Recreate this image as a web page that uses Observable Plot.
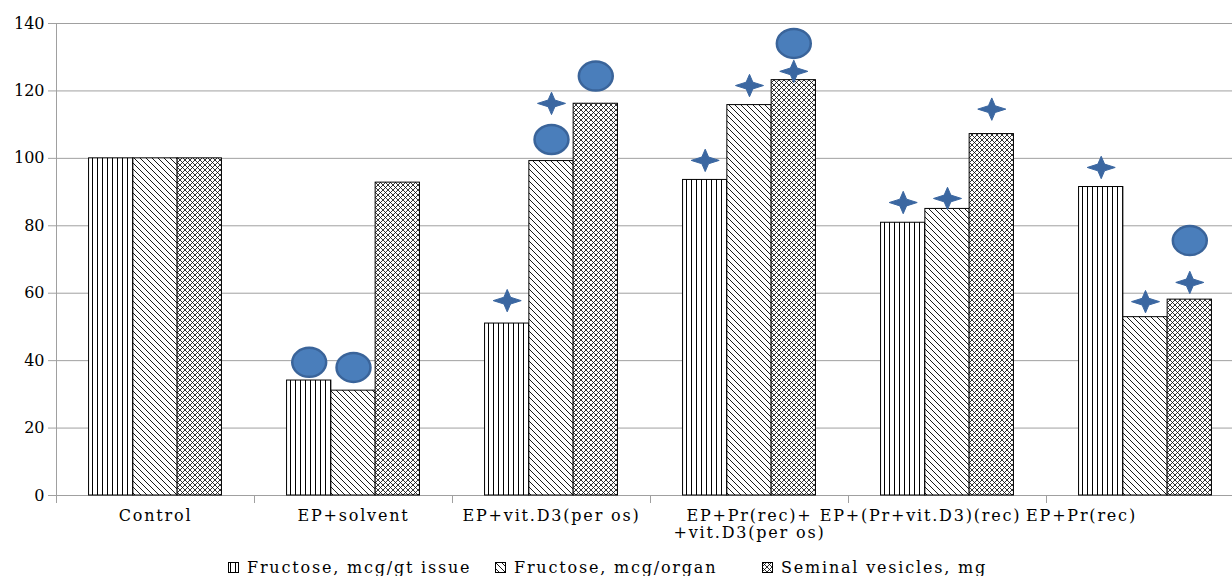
<!DOCTYPE html>
<html><head><meta charset="utf-8">
<script src="https://cdn.jsdelivr.net/npm/d3@7"></script>
<script src="https://cdn.jsdelivr.net/npm/@observablehq/plot@0.6"></script>
<style>
html,body{margin:0;padding:0;background:#fff;overflow:hidden;width:1232px;height:576px;}
#chart{width:1232px;overflow:hidden;}
#chart svg{display:block;max-width:none !important;width:1244px;height:548px;font-family:'DejaVu Serif',serif;}
#chart svg text{letter-spacing:1.8px;}
#chart svg g[aria-label="y-axis tick label"] text{letter-spacing:0;}
#legend{position:relative;height:28px;font-family:'DejaVu Serif',serif;font-size:16px;letter-spacing:1.8px;color:#000;white-space:nowrap;display:flex;padding-left:228px;}
.item{display:flex;align-items:center;height:18px;margin-top:10px;}
.item svg{margin-right:8px;flex:none}
</style></head><body>
<svg width="0" height="0" style="position:absolute">
<defs>
<pattern id="pVert" patternUnits="userSpaceOnUse" width="5" height="5"><rect width="5" height="5" fill="#fff"/><line x1="2.5" y1="-1" x2="2.5" y2="6" stroke="#000" stroke-width="1"/></pattern>
<pattern id="pDiag" patternUnits="userSpaceOnUse" width="6" height="6"><rect width="6" height="6" fill="#fff"/><path d="M-1,-1L7,7M-1,5L1,7M5,-1L7,1" stroke="#000" stroke-width="0.9"/></pattern>
<pattern id="pCross" patternUnits="userSpaceOnUse" width="5" height="5"><rect width="5" height="5" fill="#fff"/><path d="M-1,-1L6,6M6,-1L-1,6" stroke="#000" stroke-width="0.8"/></pattern>
</defs></svg>
<div id="chart"></div>
<div id="legend"></div>
<script>
// ---- data ----
const categories = ["Control", "EP+solvent", "EP+vit.D3(per os)", "EP+Pr(rec)+\n+vit.D3(per os)", "EP+(Pr+vit.D3)(rec)", "EP+Pr(rec)"];
const series = ["Fructose, mcg/gt issue", "Fructose, mcg/organ", "Seminal vesicles, mg"];
const fructoseTissue = [100, 34.1, 51.0, 93.6, 80.9, 91.5];
const fructoseOrgan = [100, 31.1, 99.2, 115.8, 85.0, 52.9];
const seminalVesicles = [100, 92.8, 116.2, 123.2, 107.2, 58.1];
const yTicks = [0, 20, 40, 60, 80, 100, 120, 140];
// significance markers: [category index, series index, value]
const circleMarkers = [[1,0,39.5],[1,1,38.0],[2,1,105.6],[2,2,124.4],[3,2,134.1],[5,2,75.6]];
const starMarkers = [[2,0,57.8],[2,1,116.3],[3,0,99.4],[3,1,121.6],[3,2,125.8],[4,0,86.9],[4,1,88.1],[4,2,114.6],[5,0,97.3],[5,1,57.5],[5,2,63.2]];

// ---- styles ----
const patterns = ["url(#pVert)", "url(#pDiag)", "url(#pCross)"];
const gridColor = "#a0a0a0";
const labelShift = {"EP+(Pr+vit.D3)(rec)": -27, "EP+Pr(rec)": -64};

const valuesBySeries = [fructoseTissue, fructoseOrgan, seminalVesicles];
const table = [];
categories.forEach((c, i) => series.forEach((s, j) => table.push({cat: c, series: s, value: valuesBySeries[j][i], fill: patterns[j]})));
const toRows = arr => arr.map(([ci, si, v]) => ({cat: categories[ci], series: series[si], value: v}));

const ellipseSymbol = {draw(ctx, size) {
  const r = Math.sqrt(size / Math.PI), rx = r * 1.17, ry = r, k = 0.5523;
  ctx.moveTo(rx, 0);
  ctx.bezierCurveTo(rx, ry * k, rx * k, ry, 0, ry);
  ctx.bezierCurveTo(-rx * k, ry, -rx, ry * k, -rx, 0);
  ctx.bezierCurveTo(-rx, -ry * k, -rx * k, -ry, 0, -ry);
  ctx.bezierCurveTo(rx * k, -ry, rx, -ry * k, rx, 0);
  ctx.closePath();
}};
const starSymbol = {draw(ctx, size) {
  const r = Math.sqrt(size / Math.PI), h = r * 0.8, k = r * 0.24;
  ctx.moveTo(r, 0); ctx.lineTo(k, k); ctx.lineTo(0, h); ctx.lineTo(-k, k);
  ctx.lineTo(-r, 0); ctx.lineTo(-k, -k); ctx.lineTo(0, -h); ctx.lineTo(k, -k);
  ctx.closePath();
}};

const labelMark = (cats, dx) => Plot.text(cats, {fx: d => d, text: d => d, frameAnchor: "bottom", lineAnchor: "top", dy: 14, dx, fontSize: 16, lineHeight: 1.05, fill: "#000"});

const chart = Plot.plot({
  width: 1244, height: 548,
  marginLeft: 56, marginRight: 0, marginTop: 23, marginBottom: 53,
  style: {fontFamily: "'DejaVu Serif', serif", fontSize: "16px", color: "#000", background: "#fff"},
  fx: {domain: categories, padding: 0, label: null, axis: null},
  x: {domain: series, paddingInner: 0, paddingOuter: 0.735, round: false, axis: null},
  y: {domain: [0, 140]},
  color: {type: "identity"},
  marks: [
    Plot.gridY(yTicks, {stroke: gridColor, strokeOpacity: 1}),
    Plot.ruleY([0], {stroke: gridColor}),
    Plot.frame({anchor: "left", stroke: gridColor, insetTop: 472, insetBottom: -7}),
    Plot.frame({anchor: "left", stroke: gridColor, insetBottom: -7, facetAnchor: "left"}),
    Plot.axisY(yTicks, {tickSize: 8, tickPadding: 4, stroke: gridColor, fill: "#000", fontSize: 16, label: null}),
    labelMark(categories.filter(c => !(c in labelShift)), 0),
    ...Object.entries(labelShift).map(([c, dx]) => labelMark([c], dx)),
    Plot.barY(table, {fx: "cat", x: "series", y: "value", fill: "fill", stroke: "#000", strokeWidth: 1}),
    Plot.dot(toRows(starMarkers), {fx: "cat", x: "series", y: "value", symbol: starSymbol, r: 14, fill: "#3b67a1", stroke: "#3b67a1", strokeWidth: 1}),
    Plot.dot(toRows(circleMarkers), {fx: "cat", x: "series", y: "value", symbol: ellipseSymbol, r: 14.5, fill: "#4a7ebb", stroke: "#3a649a", strokeWidth: 2.5})
  ]
});
document.getElementById("chart").appendChild(chart);

// legend
const legend = document.getElementById("legend");
series.forEach((s, j) => {
  const item = document.createElement("div");
  item.className = "item";
  if (j < series.length - 1) item.style.width = "267px";
  item.innerHTML = `<svg width="11" height="11"><rect x="0.5" y="0.5" width="10" height="10" fill="${patterns[j]}" stroke="#000" stroke-width="1"/></svg><span>${s}</span>`;
  legend.appendChild(item);
});
</script>
</body></html>
